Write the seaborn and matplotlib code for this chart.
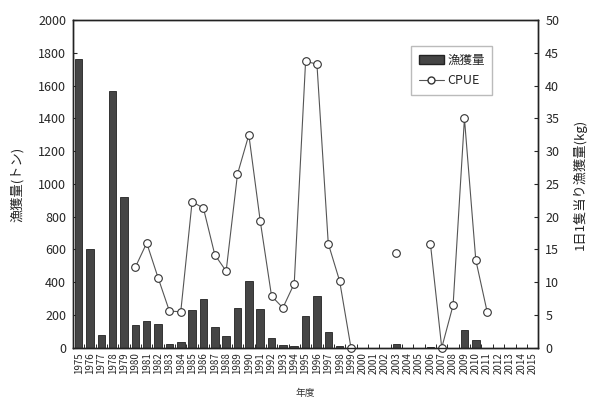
import numpy as np
import pandas as pd
import seaborn as sns
import matplotlib.pyplot as plt
from matplotlib.lines import Line2D
from matplotlib.patches import Patch

sns.set_style('white')
plt.rcParams['font.family'] = ['Noto Sans CJK JP', 'DejaVu Sans']

# 年度
years = list(range(1975, 2016))
# 漁獲量(トン)
catch = [1760, 605, 80, 1570, 920, 140, 165, 145, 25, 35,
         230, 300, 125, 70, 245, 405, 235, 60, 15, 12,
         195, 315, 95, 10, 0, 0, 0, 0, 25, 0,
         0, 5, 0, 0, 110, 45, 0, 0, 0, 0, 0]
# CPUE (kg)
cpue = [np.nan, np.nan, np.nan, np.nan, np.nan, 12.3, 16.0, 10.7, 5.6, 5.5,
        22.3, 21.3, 14.2, 11.7, 26.5, 32.5, 19.4, 7.9, 6.1, 9.8,
        43.7, 43.3, 15.9, 10.2, 0.0, np.nan, np.nan, np.nan, 14.5, np.nan,
        np.nan, 15.9, 0.0, 6.5, 35.0, 13.4, 5.5, np.nan, np.nan, np.nan, np.nan]

df = pd.DataFrame({'year': [str(y) for y in years], 'catch': catch,
                   'pos': np.arange(len(years)), 'cpue': cpue})
# 欠測で線を切るためのセグメント番号
df['seg'] = df['cpue'].isna().cumsum()
line_df = df.dropna(subset=['cpue'])

fig, ax = plt.subplots(figsize=(5.98, 4.03), dpi=100)
plt.subplots_adjust(left=0.122, right=0.9, top=0.95, bottom=0.137)

sns.barplot(data=df, x='year', y='catch', color='#454545', width=0.66,
            edgecolor='#222222', linewidth=0.6, saturation=1, ax=ax)
ax.set_ylim(0, 2000)
ax.set_xlim(-0.5, len(years) - 0.5)
ax.set_yticks(range(0, 2001, 200))
ax.set_xlabel('年度', fontsize=7, color='#333333', labelpad=10)
ax.set_ylabel('漁獲量(トン)', fontsize=9.5, color='#222222', labelpad=10)
ax.tick_params(axis='y', left=True, direction='in', length=3, labelsize=9, pad=5)
ax.tick_params(axis='x', which='major', bottom=True, length=0, labelsize=7,
               rotation=90, pad=3)
ax.set_xticks(np.arange(-0.5, len(years), 1), minor=True)
ax.tick_params(axis='x', which='minor', bottom=True, direction='in', length=3,
               width=0.7)

ax2 = ax.twinx()
sns.lineplot(data=line_df, x='pos', y='cpue', units='seg', estimator=None,
             color='#555555', linewidth=0.8, marker='o', markersize=5.5,
             markerfacecolor='white', markeredgecolor='#333333',
             markeredgewidth=0.8, clip_on=False, ax=ax2)
ax2.set_ylim(0, 50)
ax2.set_yticks(range(0, 51, 5))
ax2.set_ylabel('1日1隻当り漁獲量(kg)', fontsize=9.5, color='#222222', labelpad=10)
ax2.tick_params(axis='y', right=True, direction='in', length=3, labelsize=9, pad=5)
ax2.set_xlabel('')

for a in (ax, ax2):
    for s in a.spines.values():
        s.set_color('#222222')
        s.set_linewidth(1.0)

handles = [Patch(facecolor='#454545', edgecolor='#222222'),
           Line2D([], [], color='#555555', linewidth=0.8, marker='o', markersize=5,
                  markerfacecolor='white', markeredgecolor='#333333')]
leg = ax2.legend(handles, ['漁獲量', 'CPUE'], loc='upper right',
                 bbox_to_anchor=(0.915, 0.94), fontsize=9, frameon=True,
                 fancybox=False, edgecolor='#aaaaaa', handlelength=2.0,
                 handletextpad=0.3, borderpad=0.6, labelspacing=0.6)

plt.savefig('out.png', dpi=100)
